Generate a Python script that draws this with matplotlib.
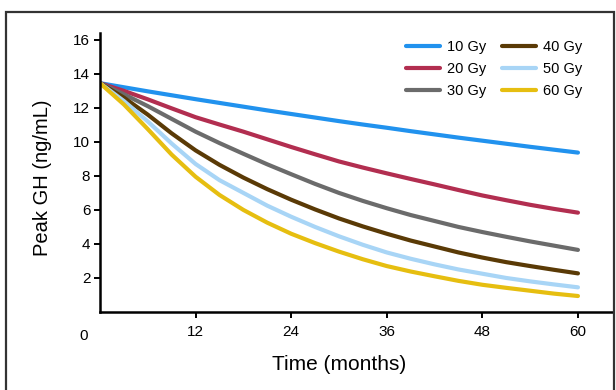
import matplotlib
matplotlib.use("Agg")
import matplotlib.pyplot as plt
from matplotlib.patches import Rectangle

months = [0, 3, 6, 9, 12, 15, 18, 21, 24, 27, 30, 33, 36, 39, 42, 45, 48, 51, 54, 57, 60]
gy10 = [13.45, 13.21, 12.97, 12.74, 12.51, 12.29, 12.07, 11.85, 11.64, 11.43, 11.22,
        11.02, 10.83, 10.63, 10.44, 10.25, 10.07, 9.89, 9.71, 9.54, 9.37]
gy20 = [13.45, 13.00, 12.50, 11.97, 11.45, 11.02, 10.60, 10.15, 9.70, 9.27, 8.85,
        8.49, 8.15, 7.82, 7.50, 7.17, 6.85, 6.57, 6.30, 6.06, 5.84]
gy30 = [13.45, 12.80, 12.10, 11.35, 10.60, 9.93, 9.30, 8.68, 8.10, 7.53, 7.00,
        6.53, 6.10, 5.70, 5.35, 5.00, 4.70, 4.42, 4.15, 3.90, 3.65]
gy40 = [13.45, 12.60, 11.60, 10.50, 9.50, 8.65, 7.90, 7.22, 6.60, 6.03, 5.50,
        5.03, 4.60, 4.20, 3.85, 3.50, 3.20, 2.93, 2.70, 2.48, 2.27]
gy50 = [13.45, 12.40, 11.20, 9.90, 8.70, 7.75, 7.00, 6.25, 5.60, 5.00, 4.45,
        3.95, 3.50, 3.13, 2.80, 2.50, 2.25, 2.00, 1.80, 1.62, 1.45]
gy60 = [13.45, 12.20, 10.75, 9.25, 7.95, 6.88, 6.00, 5.25, 4.60, 4.05, 3.55,
        3.10, 2.70, 2.38, 2.10, 1.83, 1.60, 1.42, 1.25, 1.08, 0.94]

series = [gy10, gy20, gy30, gy40, gy50, gy60]
labels = ["10 Gy", "20 Gy", "30 Gy", "40 Gy", "50 Gy", "60 Gy"]
colors = ["#2192ee", "#b22e50", "#6b6b6b", "#5a3a06", "#a8d5f6", "#e6be10"]

xticks = [12, 24, 36, 48, 60]
yticks = [2, 4, 6, 8, 10, 12, 14, 16]

plt.rcParams['font.family'] = ['Liberation Sans', 'DejaVu Sans']

W, H = 616, 390
fig = plt.figure(figsize=(W / 100, H / 100), dpi=100)
fig.patch.set_facecolor("white")

# outer frame
fig.patches.append(Rectangle((6 / W, -0.05), (614 - 6) / W, (H - 12) / H + 0.05,
                             transform=fig.transFigure, fill=False,
                             edgecolor="#333333", linewidth=1.6))

ax = fig.add_axes([100 / W, (H - 312) / H, (613 - 100) / W, (312 - 33) / H])
for y, lab, c in zip(series, labels, colors):
    ax.plot(months, y, color=c, lw=3.0, label=lab, solid_capstyle="round",
            solid_joinstyle="round")

ax.set_xlim(0, 64.4)
ax.set_ylim(0, 16.4)
ax.set_xticks(xticks)
ax.set_yticks(yticks)
ax.tick_params(axis="both", direction="out", length=4, width=1.4,
               labelsize=11, color="black")
ax.tick_params(axis="x", pad=5)
ax.tick_params(axis="y", pad=3)
for s in ["top", "right"]:
    ax.spines[s].set_visible(False)
for s in ["left", "bottom"]:
    ax.spines[s].set_linewidth(1.8)

ax.text(-2, -1.0, "0", ha="center", va="top", fontsize=11,
        transform=ax.transData, clip_on=False)
ax.set_xlabel("Time (months)", fontsize=15)
ax.xaxis.set_label_coords((339 - 100) / (613 - 100), -(365 - 312) / (312 - 33), transform=ax.transAxes)
ax.xaxis.label.set_va("center")
ax.set_ylabel("Peak GH (ng/mL)", fontsize=14.5)
ax.yaxis.set_label_coords(-(100 - 43) / (613 - 100), (312 - 178) / (312 - 33), transform=ax.transAxes)
ax.yaxis.label.set_va("center")

ax.legend(ncol=2, loc="upper left", bbox_to_anchor=(406 / W, 1 - 40 / H),
          bbox_transform=fig.transFigure, frameon=False, fontsize=10.5,
          handlelength=2.3, handletextpad=0.5, columnspacing=1.1,
          labelspacing=0.55, borderaxespad=0, borderpad=0)

fig.savefig("out.png", dpi=100, facecolor="white")
